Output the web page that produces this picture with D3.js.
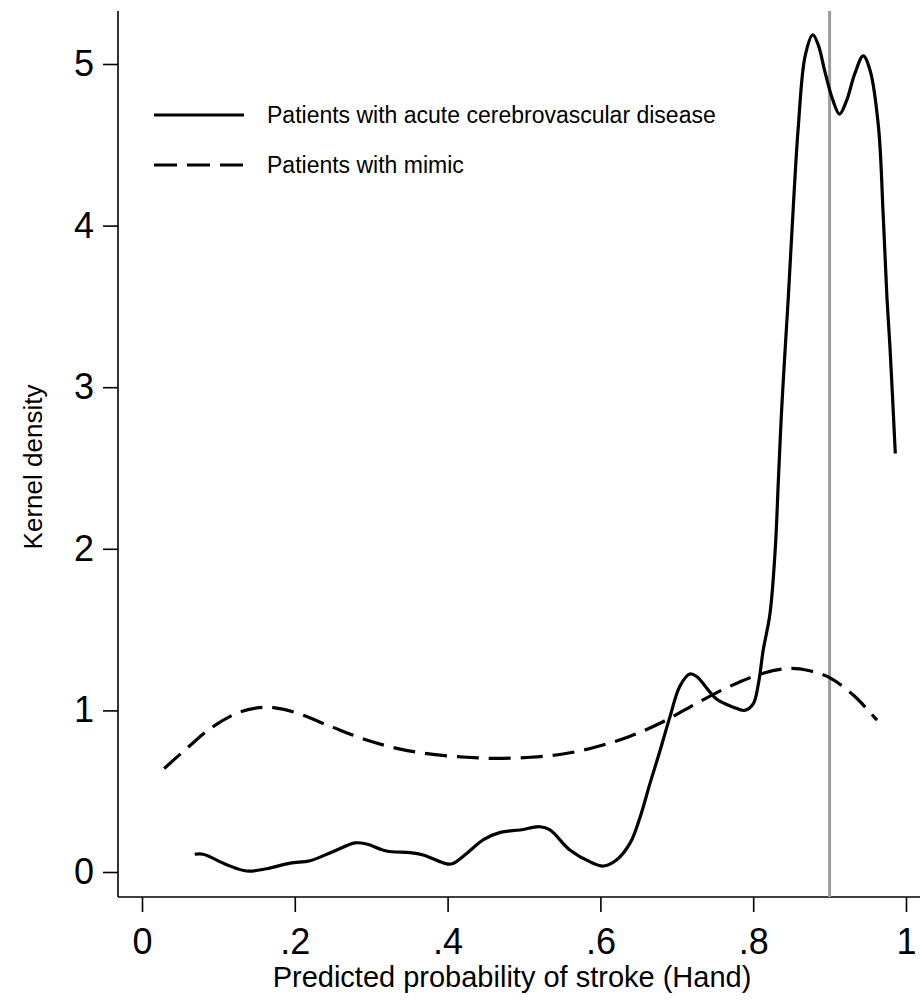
<!DOCTYPE html>
<html>
<head>
<meta charset="utf-8">
<script src="https://cdn.jsdelivr.net/npm/d3@7"></script>
<style>
  body { margin: 0; background: #fff; }
  svg { font-family: "Liberation Sans", Arial, Helvetica, sans-serif; }
</style>
</head>
<body>
<script>
// kernel density curves
var acuteX = [0.069, 0.080, 0.111, 0.137, 0.163, 0.194, 0.22, 0.25, 0.279, 0.294, 0.32, 0.351, 0.368, 0.399, 0.407,
  0.425, 0.447, 0.469, 0.495, 0.521, 0.534, 0.560, 0.586, 0.604, 0.621, 0.639, 0.652, 0.665, 0.678, 0.691, 0.704,
  0.717, 0.726, 0.752, 0.774, 0.789, 0.80, 0.807, 0.813, 0.822, 0.829, 0.833, 0.837, 0.842, 0.846, 0.853, 0.859,
  0.868, 0.878, 0.885, 0.894, 0.904, 0.913, 0.922, 0.933, 0.944, 0.953, 0.964, 0.970, 0.975, 0.979, 0.986];
var acuteY = [0.11, 0.11, 0.045, 0.006, 0.02, 0.055, 0.07, 0.126, 0.18, 0.173, 0.13, 0.12, 0.105, 0.05, 0.053,
  0.115, 0.20, 0.245, 0.26, 0.28, 0.26, 0.136, 0.064, 0.037, 0.074, 0.18, 0.34, 0.55, 0.75, 0.96, 1.15,
  1.225, 1.21, 1.07, 1.02, 1.0, 1.04, 1.17, 1.37, 1.6, 2.01, 2.43, 2.84, 3.25, 3.56, 4.16, 4.61,
  5.05, 5.18, 5.12, 4.95, 4.78, 4.69, 4.77, 4.94, 5.05, 4.96, 4.61, 4.08, 3.56, 3.25, 2.59];

var mimicX = [0.029, 0.061, 0.093, 0.128, 0.154, 0.172, 0.202, 0.25, 0.294, 0.338, 0.381, 0.425, 0.464,
  0.508, 0.551, 0.595, 0.639, 0.682, 0.726, 0.770, 0.813, 0.848, 0.874, 0.901, 0.931, 0.962];
var mimicY = [0.64, 0.775, 0.90, 0.99, 1.017, 1.017, 0.985, 0.895, 0.817, 0.76, 0.728, 0.71, 0.703,
  0.71, 0.73, 0.775, 0.84, 0.93, 1.044, 1.15, 1.23, 1.26, 1.245, 1.2, 1.095, 0.94];

var xTicks = [0, 0.2, 0.4, 0.6, 0.8, 1];
var xTickLabels = ["0", ".2", ".4", ".6", ".8", "1"];
var yTicks = [0, 1, 2, 3, 4, 5];
var yTickLabels = ["0", "1", "2", "3", "4", "5"];
var cutoff = 0.9;
var legendLabels = ["Patients with acute cerebrovascular disease", "Patients with mimic"];

var W = 920, H = 1005;
var axisLeft = 118, axisBottom = 897, axisTop = 11;

var svg = d3.select("body").append("svg")
  .attr("width", W)
  .attr("height", H);

var x = d3.scaleLinear().domain([0, 1]).range([142, 906]);
var y = d3.scaleLinear().domain([0, 5]).range([872, 64]);

// axes (domain lines drawn by hand so they meet at the corner)
var gx = svg.append("g")
  .attr("transform", "translate(0," + axisBottom + ")")
  .call(d3.axisBottom(x).tickValues(xTicks)
    .tickFormat(function (d, i) { return xTickLabels[i]; })
    .tickSize(15).tickPadding(16));
gx.select(".domain").remove();
gx.selectAll("line").attr("stroke", "#000").attr("stroke-width", 1.6);
gx.selectAll("text").attr("font-size", 36).attr("font-family", null).attr("fill", "#000");

var gy = svg.append("g")
  .attr("transform", "translate(" + axisLeft + ",0)")
  .call(d3.axisLeft(y).tickValues(yTicks)
    .tickFormat(function (d, i) { return yTickLabels[i]; })
    .tickSize(15).tickPadding(9));
gy.select(".domain").remove();
gy.selectAll("line").attr("stroke", "#000").attr("stroke-width", 1.6);
gy.selectAll("text").attr("font-size", 36).attr("font-family", null).attr("fill", "#000");

svg.append("line")
  .attr("x1", axisLeft).attr("x2", axisLeft)
  .attr("y1", axisTop).attr("y2", axisBottom)
  .attr("stroke", "#000").attr("stroke-width", 1.6);
svg.append("line")
  .attr("x1", axisLeft).attr("x2", W)
  .attr("y1", axisBottom).attr("y2", axisBottom)
  .attr("stroke", "#000").attr("stroke-width", 1.6);

// axis titles
svg.append("text")
  .attr("x", 512).attr("y", 987)
  .attr("text-anchor", "middle")
  .attr("font-size", 29)
  .text("Predicted probability of stroke (Hand)");

svg.append("text")
  .attr("transform", "translate(42,467) rotate(-90)")
  .attr("text-anchor", "middle")
  .attr("font-size", 26)
  .text("Kernel density");

// cutoff line
svg.append("line")
  .attr("x1", x(cutoff)).attr("x2", x(cutoff))
  .attr("y1", axisTop).attr("y2", axisBottom)
  .attr("stroke", "#9c9c9c").attr("stroke-width", 3);

var line = d3.line()
  .x(function (d) { return x(d[0]); })
  .y(function (d) { return y(d[1]); })
  .curve(d3.curveCatmullRom.alpha(0.5));

svg.append("path")
  .datum(acuteX.map(function (v, i) { return [v, acuteY[i]]; }))
  .attr("d", line)
  .attr("fill", "none")
  .attr("stroke", "#000")
  .attr("stroke-width", 3.2)
  .attr("stroke-linejoin", "round");

svg.append("path")
  .datum(mimicX.map(function (v, i) { return [v, mimicY[i]]; }))
  .attr("d", line)
  .attr("fill", "none")
  .attr("stroke", "#000")
  .attr("stroke-width", 3.2)
  .attr("stroke-dasharray", "22,10");

// legend
var legend = svg.append("g");
legendLabels.forEach(function (lab, i) {
  var ly = 115 + i * 50;
  legend.append("line")
    .attr("x1", 154).attr("x2", 244)
    .attr("y1", ly).attr("y2", ly)
    .attr("stroke", "#000").attr("stroke-width", 3.2)
    .attr("stroke-dasharray", i === 1 ? "23,10" : null);
  legend.append("text")
    .attr("x", 267).attr("y", ly)
    .attr("dy", "0.36em")
    .attr("font-size", 23)
    .text(lab);
});
</script>
</body>
</html>
